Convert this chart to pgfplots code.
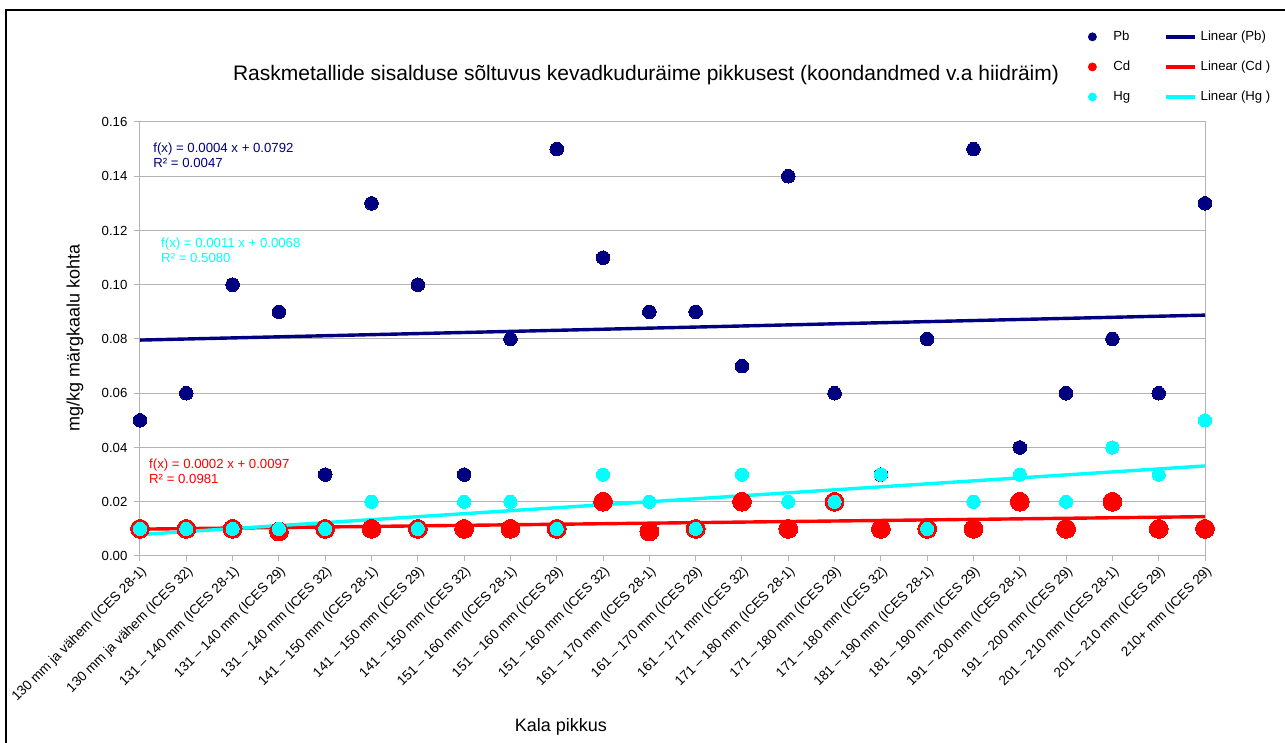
\documentclass[border=0pt]{standalone}
\usepackage{fontspec}
\setmainfont{Liberation Sans}
\usepackage{pgfplots}
\usepackage{pgfplotstable}
\pgfplotsset{compat=1.18}
\definecolor{pbcol}{HTML}{000080}
\definecolor{cdcol}{HTML}{FF0000}
\definecolor{hgcol}{HTML}{00FFFF}
\definecolor{gridc}{HTML}{B3B3B3}
\pgfplotsset{shortline/.style={legend image code/.code={\draw[##1] (0pt,0pt) -- (14.5pt,0pt);}},
  markimg/.style={legend image code/.code={\path[draw=none] (0pt,0pt) -- (10.5pt,0pt); \draw[##1] plot coordinates {(2pt,0pt)};}}}

\pgfplotstableread{
x Pb Cd Hg
0  0.05 0.010 0.01
1  0.06 0.010 0.01
2  0.10 0.010 0.01
3  0.09 0.009 0.01
4  0.03 0.010 0.01
5  0.13 0.010 0.02
6  0.10 0.010 0.01
7  0.03 0.010 0.02
8  0.08 0.010 0.02
9  0.15 0.010 0.01
10 0.11 0.020 0.03
11 0.09 0.009 0.02
12 0.09 0.010 0.01
13 0.07 0.020 0.03
14 0.14 0.010 0.02
15 0.06 0.020 0.02
16 0.03 0.010 0.03
17 0.08 0.010 0.01
18 0.15 0.010 0.02
19 0.04 0.020 0.03
20 0.06 0.010 0.02
21 0.08 0.020 0.04
22 0.06 0.010 0.03
23 0.13 0.010 0.05
}\datatable

\pgfplotstableread{
x Pb Cd Hg
0  0.0796 0.0099 0.0079
23 0.0888 0.0145 0.0332
}\trendtable

\newcommand{\smf}{\fontsize{6.6}{7.5}\selectfont}
\begin{document}
\begin{tikzpicture}[x=0.5pt,y=0.5pt]
\useasboundingbox (0,0) rectangle (1285,743);
\draw[line width=1pt] (6,0) -- (6,733) -- (1285,733);
\begin{axis}[
  at={(70pt,93.5pt)}, anchor=south west,
  scale only axis, width=532.5pt, height=217pt,
  xmin=0, xmax=23, ymin=0, ymax=0.16,
  ytick={0,0.02,0.04,0.06,0.08,0.10,0.12,0.14,0.16},
  scaled y ticks=false,
  yticklabel style={/pgf/number format/fixed, /pgf/number format/fixed zerofill, /pgf/number format/precision=2, font=\smf},
  /pgf/number format/assume math mode=true,
  xtick={0,...,23},
  xticklabels={130 mm ja vähem (ICES 28-1),130 mm ja vähem (ICES 32),131 – 140 mm (ICES 28-1),131 – 140 mm (ICES 29),131 – 140 mm (ICES 32),141 – 150 mm (ICES 28-1),141 – 150 mm (ICES 29),141 – 150 mm (ICES 32),151 – 160 mm (ICES 28-1),151 – 160 mm (ICES 29),151 – 160 mm (ICES 32),161 – 170 mm (ICES 28-1),161 – 170 mm (ICES 29),161 – 171 mm (ICES 32),171 – 180 mm (ICES 28-1),171 – 180 mm (ICES 29),171 – 180 mm (ICES 32),181 – 190 mm (ICES 28-1),181 – 190 mm (ICES 29),191 – 200 mm (ICES 28-1),191 – 200 mm (ICES 29),201 – 210 mm (ICES 28-1),201 – 210 mm (ICES 29),210+ mm (ICES 29)},
  xticklabel style={rotate=45, anchor=north east, font=\fontsize{6.8}{7.5}\selectfont, inner sep=1pt},
  ymajorgrids, grid style={gridc, line width=0.5pt},
  axis line style={gridc, line width=0.5pt},
  tick style={gridc, line width=0.5pt}, tick align=outside, major tick length=2.75pt,
  tick pos=left,
  clip=false,
  legend columns=2,
  legend cell align=left,
  legend style={at={(axis description cs:0.8845,1.230)}, anchor=north west, draw=none, fill=none, font=\smf, row sep=4.75pt, /tikz/every even column/.append style={column sep=15pt}},
]
\addlegendimage{only marks, mark=*, mark size=2pt, mark options={draw=pbcol, fill=pbcol}, markimg}
\addlegendentry{Pb}
\addlegendimage{pbcol, line width=1.7pt, shortline}
\addlegendentry{Linear (Pb)}
\addlegendimage{only marks, mark=*, mark size=2pt, mark options={draw=cdcol, fill=cdcol}, markimg}
\addlegendentry{Cd}
\addlegendimage{cdcol, line width=1.7pt, shortline}
\addlegendentry{Linear (Cd )}
\addlegendimage{only marks, mark=*, mark size=2pt, mark options={draw=hgcol, fill=hgcol}, markimg}
\addlegendentry{Hg}
\addlegendimage{hgcol, line width=1.7pt, shortline}
\addlegendentry{Linear (Hg )}

\addplot[forget plot, only marks, mark=*, mark size=3.4pt, mark options={draw=pbcol, fill=pbcol, line width=0pt}] table[x=x, y=Pb] {\datatable};
\addplot[forget plot, pbcol, line width=1.7pt] table[x=x, y=Pb] {\trendtable};
\addplot[forget plot, only marks, mark=*, mark size=4.7pt, mark options={draw=cdcol, fill=cdcol, line width=0pt}] table[x=x, y=Cd] {\datatable};
\addplot[forget plot, cdcol, line width=1.7pt] table[x=x, y=Cd] {\trendtable};
\addplot[forget plot, only marks, mark=*, mark size=3.3pt, mark options={draw=hgcol, fill=hgcol, line width=0pt}] table[x=x, y=Hg] {\datatable};
\addplot[forget plot, hgcol, line width=1.7pt] table[x=x, y=Hg] {\trendtable};

\node[anchor=west, align=left, text=pbcol, font=\smf, inner sep=0pt] at (axis cs:0.28,0.1477) {f(x) = 0.0004 x + 0.0792\\R² = 0.0047};
\node[anchor=west, align=left, text=hgcol, font=\smf, inner sep=0pt] at (axis cs:0.45,0.1126) {f(x) = 0.0011 x + 0.0068\\R² = 0.5080};
\node[anchor=west, align=left, text=cdcol, font=\smf, inner sep=0pt] at (axis cs:0.19,0.0312) {f(x) = 0.0002 x + 0.0097\\R² = 0.0981};
\end{axis}
\node[font=\fontsize{10.5}{12}\selectfont] at (646,668) {Raskmetallide sisalduse sõltuvus kevadkuduräime pikkusest (koondandmed v.a hiidräim)};
\node[font=\fontsize{9}{11}\selectfont, rotate=90] at (75,405) {mg/kg märgkaalu kohta};
\node[font=\fontsize{9}{11}\selectfont] at (561,16) {Kala pikkus};
\end{tikzpicture}
\end{document}
